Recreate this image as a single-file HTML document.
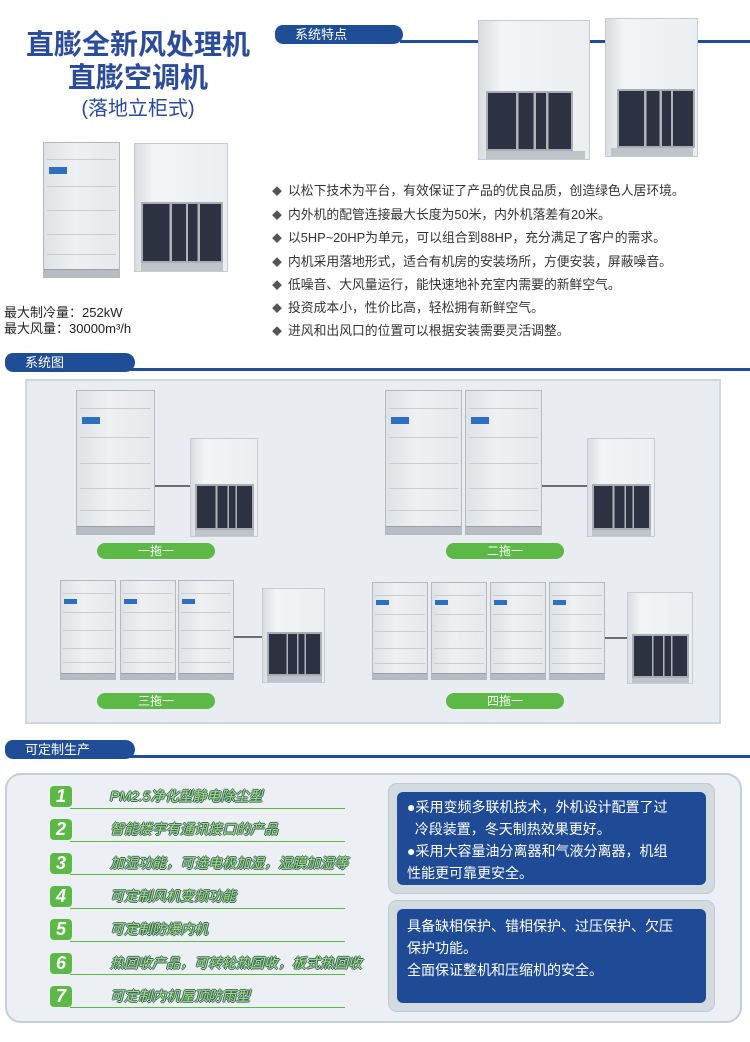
<!DOCTYPE html>
<html><head><meta charset="utf-8">
<style>
*{margin:0;padding:0;box-sizing:border-box}
body{width:750px;height:1042px;background:#fff;position:relative;overflow:hidden;font-family:"Liberation Sans","Noto Sans CJK SC",sans-serif}
.a{position:absolute}
.tab{position:absolute;height:19px;background:#1f4e97;border-radius:10px 12px 12px 10px;color:#fff;font-size:13px;line-height:19px;padding-left:20px}
.hl{position:absolute;height:3px;background:#1f4e97;right:0}
.od{position:absolute;background:linear-gradient(90deg,#dfe3e6,#eef0f2 40%,#e6e9ec);border:1px solid #b3b9bf}
.od::before{content:"";position:absolute;left:6%;top:18%;width:24%;height:5%;background:#2d6fc0}
.od::after{content:"";position:absolute;left:0;right:0;bottom:0;height:5%;background:#b7bcc1;border-top:1px solid #9aa0a6}
.od i{position:absolute;left:4%;right:4%;height:1px;background:#c9cdd1}
.id{position:absolute;background:linear-gradient(90deg,#d9dde1,#f2f4f6 20%,#eceff2);border:1px solid #c5cbd0}
.id b{position:absolute;left:6%;right:4%;bottom:6%;height:48%;background:#2c3242;border:2px solid #a9aeb4;
background-image:linear-gradient(90deg,transparent 34%,#b0b5ba 34%,#b0b5ba 37%,transparent 37%,transparent 55%,#b0b5ba 55%,#b0b5ba 58%,transparent 58%,transparent 70%,#b0b5ba 70%,#b0b5ba 73%,transparent 73%)}
.id u{position:absolute;left:6%;right:4%;bottom:0;height:6%;background:#bfc4c8}
.pill{position:absolute;height:16px;width:118px;background:#5cb946;border-radius:8px;color:#fff;font-size:12px;line-height:16px;text-align:center}
.pipe{position:absolute;height:2px;background:#6a6e73}
.feat{position:absolute;left:272px;font-size:12.8px;color:#333;white-space:nowrap}
.feat span{color:#555;margin-right:6px;font-size:10px}
.num{position:absolute;left:50px;width:22px;height:21px;background:#5cb946;border-radius:4px;color:#fff;font-weight:bold;font-style:italic;font-size:18px;line-height:21px;text-align:center}
.ct{position:absolute;left:110px;font-size:14px;color:#a8e27f;font-style:italic;white-space:nowrap;text-shadow:-1px 0 #3a6660,1px 0 #3a6660,0 -1px #3a6660,0 1px #3a6660}
.ul{position:absolute;left:70px;width:275px;height:1px;background:#5cb946}
.box{position:absolute;left:388px;width:327px;background:#d3dbe0;border:1px solid #bfcad1;border-radius:9px}
.box div{position:absolute;left:8px;right:8px;top:8px;bottom:8px;background:#1f4b96;border-radius:6px;color:#fff;font-size:14px;line-height:22px;padding:4px 10px}
</style></head><body>

<div class="a" style="left:0;width:276px;top:28px;text-align:center;color:#2b4b9b;font-size:28px;font-weight:bold;line-height:33px">直膨全新风处理机<br>直膨空调机</div>
<div class="a" style="left:0;width:276px;top:92px;text-align:center;color:#2b4b9b;font-size:20px">(落地立柜式)</div>

<div class="tab" style="left:275px;top:25px;width:128px">系统特点</div>
<div class="hl" style="left:400px;top:40px"></div>

<div class="id" style="left:478px;top:20px;width:112px;height:140px"><b style="left:6%;right:15%;height:43%"></b><u></u></div>
<div class="id" style="left:605px;top:18px;width:93px;height:139px"><b style="left:12%;right:2%;height:43%"></b><u></u></div>

<div class="od" style="left:43px;top:142px;width:77px;height:136px"><i style="top:12%"></i><i style="top:32%"></i><i style="top:50%"></i><i style="top:68%"></i><i style="top:83%"></i></div>
<div class="id" style="left:134px;top:143px;width:94px;height:129px"><b></b><u></u></div>

<div class="a" style="left:4px;top:305px;font-size:13px;color:#222;line-height:16px">最大制冷量：252kW<br>最大风量：30000m³/h</div>

<div class="feat" style="top:180px"><span>◆</span>以松下技术为平台，有效保证了产品的优良品质，创造绿色人居环境。</div>
<div class="feat" style="top:204px"><span>◆</span>内外机的配管连接最大长度为50米，内外机落差有20米。</div>
<div class="feat" style="top:227px"><span>◆</span>以5HP~20HP为单元，可以组合到88HP，充分满足了客户的需求。</div>
<div class="feat" style="top:251px"><span>◆</span>内机采用落地形式，适合有机房的安装场所，方便安装，屏蔽噪音。</div>
<div class="feat" style="top:274px"><span>◆</span>低噪音、大风量运行，能快速地补充室内需要的新鲜空气。</div>
<div class="feat" style="top:297px"><span>◆</span>投资成本小，性价比高，轻松拥有新鲜空气。</div>
<div class="feat" style="top:320px"><span>◆</span>进风和出风口的位置可以根据安装需要灵活调整。</div>

<div class="tab" style="left:5px;top:353px;width:130px">系统图</div>
<div class="hl" style="left:130px;top:368px"></div>

<div class="a" style="left:25px;top:379px;width:696px;height:345px;background:#e9edf1;border:2px solid #cdd8df"></div>

<div class="od" style="left:76px;top:390px;width:79px;height:145px"><i style="top:12%"></i><i style="top:32%"></i><i style="top:50%"></i><i style="top:68%"></i><i style="top:83%"></i></div>
<div class="pipe" style="left:155px;top:485px;width:36px"></div>
<div class="id" style="left:190px;top:438px;width:68px;height:99px"><b></b><u></u></div>
<div class="pill" style="left:97px;top:543px">一拖一</div>

<div class="od" style="left:385px;top:390px;width:77px;height:145px"><i style="top:12%"></i><i style="top:32%"></i><i style="top:50%"></i><i style="top:68%"></i><i style="top:83%"></i></div>
<div class="od" style="left:465px;top:390px;width:77px;height:145px"><i style="top:12%"></i><i style="top:32%"></i><i style="top:50%"></i><i style="top:68%"></i><i style="top:83%"></i></div>
<div class="pipe" style="left:542px;top:485px;width:46px"></div>
<div class="id" style="left:587px;top:438px;width:68px;height:99px"><b></b><u></u></div>
<div class="pill" style="left:446px;top:543px">二拖一</div>

<div class="od" style="left:60px;top:580px;width:56px;height:100px"><i style="top:12%"></i><i style="top:32%"></i><i style="top:50%"></i><i style="top:68%"></i><i style="top:83%"></i></div>
<div class="od" style="left:120px;top:580px;width:56px;height:100px"><i style="top:12%"></i><i style="top:32%"></i><i style="top:50%"></i><i style="top:68%"></i><i style="top:83%"></i></div>
<div class="od" style="left:178px;top:580px;width:56px;height:100px"><i style="top:12%"></i><i style="top:32%"></i><i style="top:50%"></i><i style="top:68%"></i><i style="top:83%"></i></div>
<div class="pipe" style="left:234px;top:636px;width:29px"></div>
<div class="id" style="left:262px;top:588px;width:63px;height:95px"><b></b><u></u></div>
<div class="pill" style="left:97px;top:693px">三拖一</div>

<div class="od" style="left:372px;top:582px;width:56px;height:98px"><i style="top:12%"></i><i style="top:32%"></i><i style="top:50%"></i><i style="top:68%"></i><i style="top:83%"></i></div>
<div class="od" style="left:431px;top:582px;width:56px;height:98px"><i style="top:12%"></i><i style="top:32%"></i><i style="top:50%"></i><i style="top:68%"></i><i style="top:83%"></i></div>
<div class="od" style="left:490px;top:582px;width:56px;height:98px"><i style="top:12%"></i><i style="top:32%"></i><i style="top:50%"></i><i style="top:68%"></i><i style="top:83%"></i></div>
<div class="od" style="left:549px;top:582px;width:56px;height:98px"><i style="top:12%"></i><i style="top:32%"></i><i style="top:50%"></i><i style="top:68%"></i><i style="top:83%"></i></div>
<div class="pipe" style="left:605px;top:637px;width:23px"></div>
<div class="id" style="left:627px;top:592px;width:66px;height:92px"><b></b><u></u></div>
<div class="pill" style="left:446px;top:693px">四拖一</div>

<div class="tab" style="left:5px;top:740px;width:130px">可定制生产</div>
<div class="hl" style="left:130px;top:755px"></div>

<div class="a" style="left:5px;top:773px;width:737px;height:250px;background:#eceff3;border:2px solid #c3d0d8;border-radius:16px"></div>

<div class="num" style="top:786px">1</div><div class="ct" style="top:786px">PM2.5净化型静电除尘型</div><div class="ul" style="top:808px"></div>
<div class="num" style="top:819px">2</div><div class="ct" style="top:819px">智能楼宇有通讯接口的产品</div><div class="ul" style="top:841px"></div>
<div class="num" style="top:853px">3</div><div class="ct" style="top:853px">加湿功能，可选电极加湿，湿膜加湿等</div><div class="ul" style="top:874px"></div>
<div class="num" style="top:886px">4</div><div class="ct" style="top:886px">可定制风机变频功能</div><div class="ul" style="top:908px"></div>
<div class="num" style="top:919px">5</div><div class="ct" style="top:919px">可定制防爆内机</div><div class="ul" style="top:941px"></div>
<div class="num" style="top:953px">6</div><div class="ct" style="top:953px">热回收产品，可转轮热回收，板式热回收</div><div class="ul" style="top:974px"></div>
<div class="num" style="top:986px">7</div><div class="ct" style="top:986px">可定制内机屋顶防雨型</div><div class="ul" style="top:1007px"></div>

<div class="box" style="top:783px;height:111px"><div>●采用变频多联机技术，外机设计配置了过<br>&nbsp;&nbsp;冷段装置，冬天制热效果更好。<br>●采用大容量油分离器和气液分离器，机组<br>性能更可靠更安全。</div></div>
<div class="box" style="top:900px;height:112px"><div style="padding-top:6px">具备缺相保护、错相保护、过压保护、欠压<br>保护功能。<br>全面保证整机和压缩机的安全。</div></div>

</body></html>
